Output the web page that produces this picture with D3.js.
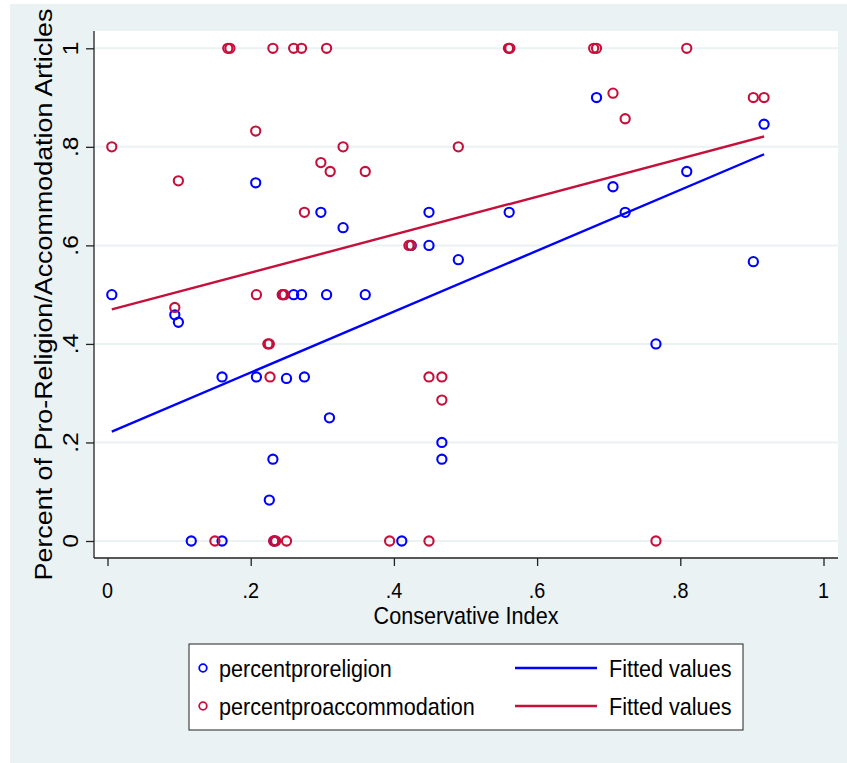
<!DOCTYPE html>
<html>
<head>
<meta charset="utf-8">
<script src="https://cdn.jsdelivr.net/npm/d3@7"></script>
<style>
  body { margin: 0; background: #ffffff; }
  svg text { font-family: "Liberation Sans Narrow", "Arial Narrow", "Liberation Sans", Arial, sans-serif; fill: #000; }
</style>
</head>
<body>
<svg id="chart" width="847" height="763"></svg>
<script>
// Conservative index (x) and shares
const religionX = [0.006, 0.094, 0.099, 0.117, 0.160, 0.160, 0.207, 0.208, 0.226, 0.231, 0.233, 0.245,
  0.250, 0.260, 0.271, 0.275, 0.298, 0.306, 0.310, 0.329, 0.360, 0.411, 0.424, 0.449, 0.449, 0.467, 0.467,
  0.490, 0.561, 0.683, 0.706, 0.723, 0.766, 0.809, 0.902, 0.917];
const religionY = [0.500, 0.459, 0.444, 0.000, 0.333, 0.000, 0.727, 0.333, 0.083, 0.166, 0.000, 0.500,
  0.330, 0.500, 0.500, 0.333, 0.667, 0.500, 0.250, 0.636, 0.500, 0.000, 0.600, 0.667, 0.600, 0.200, 0.166,
  0.571, 0.667, 0.900, 0.719, 0.667, 0.400, 0.750, 0.567, 0.846];

const accommodationX = [0.006, 0.094, 0.099, 0.150, 0.168, 0.171, 0.207, 0.208, 0.224, 0.226, 0.227, 0.231,
  0.232, 0.235, 0.244, 0.247, 0.250, 0.260, 0.271, 0.275, 0.298, 0.306, 0.311, 0.329, 0.360, 0.394, 0.421,
  0.424, 0.449, 0.449, 0.467, 0.467, 0.490, 0.560, 0.562, 0.679, 0.683, 0.706, 0.723, 0.766, 0.809, 0.902, 0.917];
const accommodationY = [0.800, 0.474, 0.731, 0.000, 1.000, 1.000, 0.832, 0.500, 0.400, 0.400, 0.333, 1.000,
  0.000, 0.000, 0.500, 0.500, 0.000, 1.000, 1.000, 0.667, 0.768, 1.000, 0.750, 0.800, 0.750, 0.000, 0.600,
  0.600, 0.333, 0.000, 0.333, 0.286, 0.800, 1.000, 1.000, 1.000, 1.000, 0.909, 0.857, 0.000, 1.000, 0.900, 0.900];

// fitted values at the ends of the x range
const fitX = [0.006, 0.917];
const fitReligion = [0.222, 0.785];
const fitAccommodation = [0.470, 0.821];

const xTicks = [0, 0.2, 0.4, 0.6, 0.8, 1];
const yTicks = [0, 0.2, 0.4, 0.6, 0.8, 1];
const tickLabel = v => v === 0 ? "0" : v === 1 ? "1" : String(v).replace(/^0/, "");

const legendItems = [
  { label: "percentproreligion", fit: "Fitted values", color: "#0000ff" },
  { label: "percentproaccommodation", fit: "Fitted values", color: "#c5103c" }
];

const blue = "#0000ff";
const red = "#c5103c";
const bg = "#eaf2f3";

// the reference looks squeezed sideways, so text is drawn narrow
const NARROW = 0.9;
const LONG = 1.12;

const svg = d3.select("#chart");

// horizontal text, narrowed
const hText = (parent, tx, ty, size, anchor, str) => parent.append("text")
  .attr("transform", `translate(${tx},${ty}) scale(${NARROW},1)`)
  .attr("text-anchor", anchor).attr("font-size", size).text(str);

// vertical text, stretched along its length
const vText = (parent, tx, ty, size, str) => parent.append("text")
  .attr("transform", `translate(${tx},${ty}) rotate(-90) scale(${LONG},1)`)
  .attr("text-anchor", "middle").attr("font-size", size).text(str);

// outer graph region
svg.append("rect").attr("x", 10).attr("y", 4).attr("width", 837).attr("height", 759).attr("fill", bg);

const plot = { left: 94, top: 31, right: 838, bottom: 558 };
svg.append("rect")
  .attr("x", plot.left).attr("y", plot.top)
  .attr("width", plot.right - plot.left).attr("height", plot.bottom - plot.top)
  .attr("fill", "#ffffff");

const x = d3.scaleLinear().domain([0, 1]).range([107.5, 823.5]);
const y = d3.scaleLinear().domain([0, 1]).range([541, 48.3]);

// grid lines
svg.append("g").selectAll("line").data(yTicks).join("line")
  .attr("x1", plot.left).attr("x2", plot.right)
  .attr("y1", d => y(d)).attr("y2", d => y(d))
  .attr("stroke", bg).attr("stroke-width", 2);

// y axis
const yAxis = svg.append("g").attr("transform", `translate(${plot.left},0)`)
  .call(d3.axisLeft(y).tickValues(yTicks).tickSize(8).tickFormat(""));
yAxis.select(".domain").attr("d", `M0,${plot.top}V${plot.bottom}`);
yAxis.selectAll("line, path").attr("stroke", "#222").attr("stroke-width", 1.3);

const yLabels = svg.append("g");
yTicks.forEach(d => vText(yLabels, 78, y(d), 22, tickLabel(d)));

// x axis
const xAxis = svg.append("g").attr("transform", `translate(0,${plot.bottom})`)
  .call(d3.axisBottom(x).tickValues(xTicks).tickSize(8).tickFormat(""));
xAxis.select(".domain").attr("d", `M${plot.left},0H${plot.right}`);
xAxis.selectAll("line, path").attr("stroke", "#222").attr("stroke-width", 1.3);

const xLabels = svg.append("g");
xTicks.forEach(d => hText(xLabels, x(d), 598, 22, "middle", tickLabel(d)));

// axis titles
hText(svg, 466, 624, 24, "middle", "Conservative Index");
vText(svg, 52, (plot.top + plot.bottom) / 2, 24, "Percent of Pro-Religion/Accommodation Articles");

// scatter markers
const drawPoints = (xs, ys, color) => {
  svg.append("g").selectAll("circle").data(d3.range(xs.length)).join("circle")
    .attr("cx", i => x(xs[i])).attr("cy", i => y(ys[i]))
    .attr("r", 4.6)
    .attr("fill", "none").attr("stroke", color).attr("stroke-width", 2.1);
};
drawPoints(religionX, religionY, blue);
drawPoints(accommodationX, accommodationY, red);

// fitted lines
const line = d3.line().x(d => x(d[0])).y(d => y(d[1]));
svg.append("path").datum(d3.zip(fitX, fitReligion))
  .attr("d", line).attr("fill", "none").attr("stroke", blue).attr("stroke-width", 2.4);
svg.append("path").datum(d3.zip(fitX, fitAccommodation))
  .attr("d", line).attr("fill", "none").attr("stroke", red).attr("stroke-width", 2.4);

// legend
const legend = svg.append("g");
legend.append("rect")
  .attr("x", 189).attr("y", 644).attr("width", 554).attr("height", 86)
  .attr("fill", "#ffffff").attr("stroke", "#222").attr("stroke-width", 1);

legendItems.forEach((item, i) => {
  const cy = 668 + i * 38;
  legend.append("circle")
    .attr("cx", 203).attr("cy", cy).attr("r", 3.8)
    .attr("fill", "none").attr("stroke", item.color).attr("stroke-width", 1.8);
  hText(legend, 219, cy + 9, 24, "start", item.label);
  legend.append("line")
    .attr("x1", 515).attr("x2", 597).attr("y1", cy).attr("y2", cy)
    .attr("stroke", item.color).attr("stroke-width", 2.4);
  hText(legend, 609, cy + 9, 24, "start", item.fit);
});
</script>
</body>
</html>
